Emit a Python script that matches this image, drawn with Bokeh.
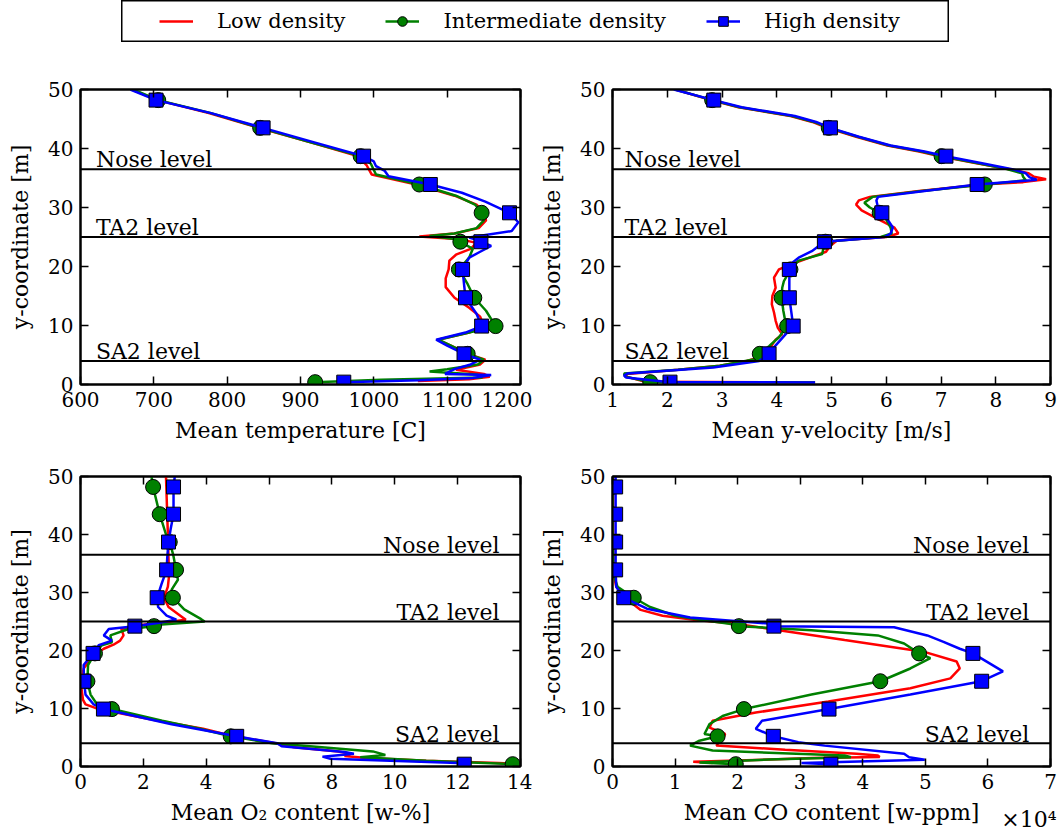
from bokeh.plotting import figure
from bokeh.models import (Range1d, FixedTicker, LinearAxis, Span, Label, Legend,
                          LegendItem, Spacer, CustomJSTickFormatter, Title)
from bokeh.layouts import row, column
from bokeh.embed import file_html
from bokeh.resources import INLINE

# ---------------- data ----------------
MARK_Y = [48.2, 43.5, 38.7, 33.9, 29.1, 24.2, 19.5, 14.7, 9.9, 5.2, 0.4]
LEVELS = [36.5, 25.0, 4.0]
LEVEL_NAMES = ["Nose level", "TA2 level", "SA2 level"]
SERIES = ["Low density", "Intermediate density", "High density"]

# Mean temperature [C]
T_LOW_Y = [50, 48.2, 46, 43.5, 41, 38.7, 37.2, 36.3, 35.6, 33.9, 32, 30.5, 29.1, 27.8, 26.5, 25.6, 25.1, 24.6, 24.0, 23.0, 22.0, 21.0, 19.5, 18.0, 16.5, 14.7, 13.0, 11.5, 9.9, 8.8, 7.6, 6.6, 5.2, 4.2, 3.4, 2.5, 1.8, 1.3, 0.9, 0.6]
T_LOW_X = [670, 705, 775, 843, 915, 978, 990, 994, 997, 1058, 1110, 1140, 1150, 1153, 1143, 1110, 1062, 1118, 1140, 1132, 1112, 1103, 1102, 1098, 1098, 1110, 1130, 1145, 1150, 1130, 1087, 1105, 1128, 1152, 1145, 1112, 1150, 1158, 1130, 1060]
T_MID_Y = [50, 48.2, 46, 43.5, 41, 38.7, 37.4, 36.6, 35.6, 33.9, 32, 30.5, 29.1, 27.8, 26.5, 25.6, 25.15, 24.7, 24.2, 23.0, 21.5, 19.5, 17.0, 14.7, 12.5, 9.9, 8.8, 7.6, 6.6, 5.2, 4.2, 3.4, 2.6, 2.2, 1.7, 1.2, 0.8, 0.4]
T_MID_X = [672, 706, 778, 845, 915, 982, 996, 999, 1003, 1062, 1112, 1138, 1147, 1150, 1140, 1110, 1076, 1108, 1118, 1135, 1130, 1116, 1128, 1137, 1153, 1166, 1130, 1088, 1105, 1128, 1150, 1142, 1100, 1076, 1140, 1148, 1010, 920]
T_HIGH_Y = [50, 48.2, 46, 43.5, 41, 38.7, 37.8, 37.0, 36.2, 35.3, 33.9, 32.5, 31.0, 29.1, 27.5, 26.0, 25.3, 24.9, 24.6, 24.2, 23.5, 22.5, 21.5, 19.5, 17.0, 14.7, 12.0, 9.9, 8.8, 7.6, 6.6, 5.2, 4.2, 3.4, 2.6, 1.8, 1.6, 1.1, 0.7, 0.4]
T_HIGH_X = [668, 703, 778, 849, 920, 986, 1000, 1003, 1015, 1020, 1077, 1120, 1152, 1185, 1197, 1188, 1150, 1130, 1138, 1146, 1160, 1145, 1130, 1121, 1123, 1125, 1140, 1147, 1125, 1085, 1100, 1123, 1145, 1132, 1110, 1097, 1160, 1135, 1062, 959]
T_MID_M = [706, 845, 982, 1062, 1147, 1118, 1116, 1137, 1166, 1128, 920]
T_HIGH_M = [703, 849, 986, 1077, 1185, 1146, 1121, 1125, 1147, 1123, 959]

# Mean y-velocity [m/s]
V_LOW_Y = [50, 48.2, 47, 45.5, 44.5, 43.5, 42, 40.5, 39.5, 38.7, 37.5, 36.5, 35.8, 35.2, 34.8, 34.3, 33.9, 32.8, 31.8, 31.2, 30.5, 29.5, 28.3, 26.6, 25.6, 25.0, 24.4, 23.5, 22.5, 21.5, 20.5, 19.5, 18.1, 16.4, 15.0, 13.6, 12.2, 10.8, 9.6, 8.5, 7.6, 6.5, 5.5, 4.6, 4.0, 3.2, 2.5, 1.75, 1.3, 0.45, 0.35]
V_LOW_X = [2.15, 2.8, 3.3, 4.25, 4.65, 4.92, 5.45, 6.02, 6.6, 6.98, 7.65, 8.25, 8.6, 8.7, 8.92, 8.5, 7.75, 6.6, 5.7, 5.5, 5.45, 5.55, 5.8, 6.15, 6.22, 6.0, 5.1, 4.98, 4.9, 4.6, 4.3, 4.04, 3.95, 3.98, 3.92, 3.91, 3.95, 3.98, 4.02, 4.1, 3.98, 3.9, 3.84, 3.68, 3.45, 2.96, 2.2, 1.21, 1.27, 1.6, 4.7]
V_MID_Y = [50, 48.2, 47, 45.5, 44.5, 43.5, 42, 40.5, 39.5, 38.7, 37.5, 36.5, 35.8, 35.2, 34.6, 33.9, 32.8, 31.8, 30.8, 30.0, 29.1, 28.0, 26.6, 25.6, 25.0, 24.2, 23.0, 22.1, 21.0, 19.5, 17.5, 16.4, 14.7, 12.5, 11.0, 9.9, 8.0, 6.5, 5.2, 4.3, 3.2, 2.5, 1.85, 1.3, 0.4, 0.35]
V_MID_X = [2.15, 2.82, 3.32, 4.28, 4.68, 4.95, 5.48, 6.05, 6.65, 7.01, 7.68, 8.2, 8.48, 8.5, 8.55, 7.8, 6.65, 5.75, 5.6, 5.7, 5.88, 6.0, 6.08, 6.1, 5.9, 4.89, 4.85, 4.83, 4.4, 4.25, 4.13, 4.1, 4.09, 4.12, 4.15, 4.19, 4.04, 3.86, 3.69, 3.6, 2.96, 2.2, 1.21, 1.24, 1.69, 4.7]
V_HIGH_Y = [50, 48.2, 47, 45.5, 44.5, 43.5, 42, 40.5, 39.5, 38.7, 37.5, 36.5, 35.8, 35.1, 34.7, 33.9, 32.8, 31.8, 31.2, 30.0, 29.1, 28.0, 26.6, 25.6, 25.0, 24.2, 22.6, 21.5, 20.4, 19.5, 17.0, 14.7, 12.0, 9.9, 8.5, 6.0, 5.2, 4.0, 2.9, 1.85, 1.5, 1.2, 0.4, 0.35]
V_HIGH_X = [2.12, 2.85, 3.36, 4.33, 4.72, 4.98, 5.5, 6.08, 6.7, 7.09, 7.75, 8.3, 8.55, 8.62, 8.75, 7.66, 6.7, 5.85, 5.82, 5.85, 5.92, 6.02, 6.12, 6.08, 5.97, 4.87, 4.64, 4.4, 4.25, 4.23, 4.23, 4.23, 4.27, 4.30, 4.16, 3.92, 3.86, 3.68, 2.84, 1.27, 1.21, 1.25, 2.05, 4.7]
V_MID_M = [2.82, 4.95, 7.01, 7.8, 5.88, 4.89, 4.25, 4.09, 4.19, 3.69, 1.69]
V_HIGH_M = [2.85, 4.98, 7.09, 7.66, 5.92, 4.87, 4.23, 4.23, 4.30, 3.86, 2.05]

# Mean O2 content [w-%]
O_LOW_Y = [50, 45, 40, 36, 33, 31, 29.1, 27.5, 26.3, 25.3, 24.8, 24.5, 23.7, 22.6, 21.7, 21.0, 20.3, 19.2, 16.9, 15.0, 13.5, 11.5, 10.7, 9.9, 8.5, 7.9, 6.5, 5.3, 4.0, 3.3, 2.6, 2.2, 1.8, 1.5, 1.0, 0.6, 0.4]
O_LOW_X = [2.72, 2.75, 2.78, 2.8, 2.82, 2.78, 2.66, 2.8, 3.1, 3.35, 2.6, 2.05, 1.3, 1.37, 1.26, 1.05, 0.74, 0.42, 0.1, 0.04, 0.03, 0.08, 0.16, 0.58, 1.9, 2.47, 3.9, 4.8, 6.2, 6.8, 8.2, 8.6, 8.4, 9.0, 11.0, 13.3, 14.0]
O_MID_Y = [50, 48.2, 43.5, 40, 38.7, 36.5, 33.9, 32.2, 30.5, 29.1, 27.1, 25.4, 25.0, 24.5, 24.2, 23.7, 22.6, 21.4, 20.9, 19.5, 17.5, 14.7, 12.4, 10.7, 9.9, 7.9, 6.5, 5.2, 4.0, 3.5, 2.6, 2.0, 1.6, 1.0, 0.4]
O_MID_X = [2.26, 2.31, 2.52, 2.72, 2.84, 2.95, 3.04, 3.1, 2.9, 2.94, 3.3, 3.84, 3.95, 2.58, 2.34, 1.53, 0.95, 1.0, 0.68, 0.46, 0.24, 0.22, 0.32, 0.53, 1.0, 2.6, 3.8, 4.78, 6.1, 7.3, 9.3, 9.7, 8.9, 11.0, 13.75]
O_HIGH_Y = [50, 48.2, 43.5, 41, 38.7, 36, 33.9, 31.5, 29.1, 27.5, 26.0, 25.3, 24.7, 24.2, 23.7, 22.6, 21.7, 20.9, 19.5, 17.5, 14.7, 12.4, 10.7, 9.9, 7.3, 5.2, 4.0, 3.5, 2.5, 2.2, 1.7, 1.35, 0.6, 0.4]
O_HIGH_X = [3.0, 2.96, 2.96, 2.87, 2.8, 2.76, 2.74, 2.58, 2.44, 2.47, 2.74, 3.05, 2.4, 1.73, 0.9, 0.74, 1.0, 0.58, 0.40, 0.1, 0.11, 0.16, 0.42, 0.73, 2.9, 4.97, 6.26, 6.4, 8.4, 8.7, 7.7, 7.95, 12.0, 12.21]
O_MID_M = [2.31, 2.52, 2.84, 3.04, 2.94, 2.34, 0.46, 0.22, 1.0, 4.78, 13.75]
O_HIGH_M = [2.96, 2.96, 2.8, 2.74, 2.44, 1.73, 0.40, 0.11, 0.73, 4.97, 12.21]

# Mean CO content [w-ppm], in units of 1e4
C_LOW_Y = [50, 40, 33, 31, 29.1, 27, 26, 25.3, 24.8, 24.6, 23.5, 21.8, 19.8, 18.1, 16.9, 15.2, 13.5, 11.2, 9.3, 7.9, 6.7, 5.6, 4.7, 4.2, 3.6, 2.9, 2.2, 1.9, 1.65, 1.45, 0.8, 0.6]
C_LOW_X = [0.01, 0.01, 0.02, 0.06, 0.2, 0.45, 0.8, 1.3, 1.8, 1.97, 2.66, 3.71, 4.97, 5.5, 5.55, 5.4, 4.76, 3.45, 2.29, 1.6, 1.55, 1.8, 1.76, 1.7, 1.66, 2.76, 3.9, 4.24, 4.27, 3.2, 1.29, 1.6]
C_MID_Y = [50, 40, 33, 31, 29.1, 27.5, 26.0, 25.3, 24.6, 24.2, 23.5, 22.6, 21.2, 19.5, 18.7, 16.9, 14.7, 12.4, 9.9, 8.7, 7.3, 5.6, 5.2, 4.45, 3.6, 2.75, 1.9, 1.6, 1.2, 0.7, 0.4]
C_MID_X = [0.0, 0.0, 0.02, 0.08, 0.34, 0.6, 1.0, 1.4, 1.87, 2.02, 3.18, 4.24, 4.66, 4.9, 5.08, 4.76, 4.28, 3.18, 2.1, 1.76, 1.55, 1.47, 1.68, 1.39, 1.24, 1.6, 3.71, 3.81, 2.5, 1.39, 1.97]
C_HIGH_Y = [50, 48.2, 43.5, 38.7, 33.9, 31, 29.1, 28, 27.2, 25.7, 24.6, 24.2, 24.0, 22.6, 21.5, 20.3, 19.5, 16.4, 14.7, 12.4, 9.9, 7.9, 6.5, 5.2, 4.2, 3.6, 2.2, 1.6, 1.15, 0.6, 0.4]
C_HIGH_X = [0.05, 0.05, 0.05, 0.05, 0.05, 0.06, 0.18, 0.4, 0.55, 1.24, 2.55, 2.58, 4.5, 5.03, 5.29, 5.55, 5.76, 6.24, 5.9, 4.76, 3.46, 2.39, 2.29, 2.57, 2.97, 3.39, 4.66, 4.74, 4.99, 3.02, 3.49]
C_MID_M = [0.0, 0.0, 0.0, 0.0, 0.34, 2.02, 4.9, 4.28, 2.1, 1.68, 1.97]
C_HIGH_M = [0.05, 0.05, 0.05, 0.05, 0.18, 2.58, 5.76, 5.9, 3.46, 2.57, 3.49]

X_TICKS_T = [600, 700, 800, 900, 1000, 1100, 1200]
X_TICKS_V = [1, 2, 3, 4, 5, 6, 7, 8, 9]
X_TICKS_O = [0, 2, 4, 6, 8, 10, 12, 14]
X_TICKS_C = [0, 1, 2, 3, 4, 5, 6, 7]
Y_TICKS = [0, 10, 20, 30, 40, 50]
CO_MULTIPLIER = "\u00d710\u2074"

# ---------------- style ----------------
FONT = "DejaVu Serif"
RED, GREEN, BLUE = "#ff0000", "#008000", "#0000ff"
LW = 2.5
EMPTY_FMT = CustomJSTickFormatter(code="return ''")


def style_axis(ax, ticks, show_labels=True):
    ax.ticker = FixedTicker(ticks=ticks)
    ax.minor_tick_line_color = None
    ax.major_tick_in = 8
    ax.major_tick_out = 0
    ax.major_tick_line_width = 1.5
    ax.major_tick_line_color = "black"
    ax.axis_line_width = 2
    ax.axis_line_color = "black"
    ax.major_label_text_font = FONT
    if show_labels:
        ax.major_label_text_color = "black"
        ax.major_label_text_font_size = "20px"
        ax.major_label_standoff = 7
    else:
        ax.formatter = EMPTY_FMT
        ax.major_label_text_color = None
        ax.major_label_text_font_size = "1px"
        ax.major_label_standoff = 0
    ax.axis_label_text_font = FONT
    ax.axis_label_text_font_size = "22px"
    ax.axis_label_text_font_style = "normal"
    ax.axis_label_text_color = "black"
    ax.axis_label_standoff = 8


def panel(xr, xticks, xlabel, width, height, top, bottom,
          ly, lx, mid_m, high_m, lab_x, lab_align):
    p = figure(width=width, height=height, x_range=Range1d(*xr), y_range=Range1d(0, 50),
               output_backend="svg", toolbar_location=None,
               min_border_left=80, min_border_right=12,
               min_border_top=top, min_border_bottom=bottom)
    p.xgrid.visible = False
    p.ygrid.visible = False
    p.outline_line_color = "black"
    p.outline_line_width = 2
    p.background_fill_color = "white"
    p.border_fill_color = "white"

    style_axis(p.xaxis[0], xticks)
    p.xaxis[0].axis_label = xlabel
    style_axis(p.yaxis[0], Y_TICKS)
    p.yaxis[0].axis_label = "y-coordinate [m]"
    p.yaxis[0].axis_label_standoff = 12

    ax_top = LinearAxis()
    style_axis(ax_top, xticks, show_labels=False)
    p.add_layout(ax_top, "above")
    ax_right = LinearAxis()
    style_axis(ax_right, Y_TICKS, show_labels=False)
    p.add_layout(ax_right, "right")

    (ly_low, lx_low), (ly_mid, lx_mid), (ly_high, lx_high) = zip(ly, lx)
    p.line(lx_low, ly_low, line_color=RED, line_width=LW)
    p.line(lx_mid, ly_mid, line_color=GREEN, line_width=LW)
    p.scatter(mid_m, MARK_Y, marker="circle", size=15, fill_color=GREEN,
              line_color="black", line_width=1)
    p.line(lx_high, ly_high, line_color=BLUE, line_width=LW)
    p.scatter(high_m, MARK_Y, marker="square", size=14, fill_color=BLUE,
              line_color="black", line_width=1)

    for lev, name in zip(LEVELS, LEVEL_NAMES):
        p.add_layout(Span(location=lev, dimension="width", line_color="black", line_width=2))
        p.add_layout(Label(x=lab_x, y=lev + 1.6, text=name, text_align=lab_align,
                           text_baseline="alphabetic", text_font=FONT,
                           text_font_size="22px", text_color="black"))
    return p


tl = panel((600, 1200), X_TICKS_T, "Mean temperature [C]", 532, 405, 47, 63,
           [T_LOW_Y, T_MID_Y, T_HIGH_Y], [T_LOW_X, T_MID_X, T_HIGH_X],
           T_MID_M, T_HIGH_M, 621, "left")
tr = panel((1, 9), X_TICKS_V, "Mean y-velocity [m/s]", 530, 405, 47, 63,
           [V_LOW_Y, V_MID_Y, V_HIGH_Y], [V_LOW_X, V_MID_X, V_HIGH_X],
           V_MID_M, V_HIGH_M, 1.22, "left")
bl = panel((0, 14), X_TICKS_O, "Mean O\u2082 content [w-%]", 532, 388, 29, 69,
           [O_LOW_Y, O_MID_Y, O_HIGH_Y], [O_LOW_X, O_MID_X, O_HIGH_X],
           O_MID_M, O_HIGH_M, 13.33, "right")
br = panel((0, 7), X_TICKS_C, "Mean CO content [w-ppm]", 530, 388, 29, 69,
           [C_LOW_Y, C_MID_Y, C_HIGH_Y], [C_LOW_X, C_MID_X, C_HIGH_X],
           C_MID_M, C_HIGH_M, 6.66, "right")
br.add_layout(Title(text=CO_MULTIPLIER, align="right", vertical_align="top",
                    standoff=-42, offset=-6, text_font=FONT, text_font_size="22px",
                    text_font_style="normal", text_color="black"), "below")

# ---------------- legend ----------------
lg = figure(width=828, height=42, x_range=Range1d(0, 1), y_range=Range1d(0, 1),
            output_backend="svg", toolbar_location=None,
            x_axis_type=None, y_axis_type=None,
            min_border_left=0, min_border_right=0, min_border_top=0, min_border_bottom=0)
lg.xgrid.visible = False
lg.ygrid.visible = False
lg.outline_line_color = "black"
lg.outline_line_width = 2
# legend glyph carriers: series drawn outside the (0..1) view of this strip
g_low = lg.line(T_LOW_X, T_LOW_Y, line_color=RED, line_width=LW)
g_mid = lg.line(T_MID_X, T_MID_Y, line_color=GREEN, line_width=LW)
g_mids = lg.scatter(T_MID_M, MARK_Y, marker="circle", size=15, fill_color=GREEN,
                    line_color="black", line_width=1)
g_high = lg.line(T_HIGH_X, T_HIGH_Y, line_color=BLUE, line_width=LW)
g_highs = lg.scatter(T_HIGH_M, MARK_Y, marker="square", size=14, fill_color=BLUE,
                     line_color="black", line_width=1)
legend = Legend(items=[LegendItem(label=SERIES[0], renderers=[g_low]),
                       LegendItem(label=SERIES[1], renderers=[g_mid, g_mids]),
                       LegendItem(label=SERIES[2], renderers=[g_high, g_highs])],
                orientation="horizontal", location="left", padding=6, margin=38,
                spacing=40, glyph_width=34, glyph_height=24, label_standoff=24,
                label_text_font=FONT, label_text_font_size="21px",
                label_text_color="black",
                border_line_color=None, background_fill_alpha=0)
lg.add_layout(legend, "center")

layout = column(row(Spacer(width=121, height=42), lg), row(tl, tr), row(bl, br))

with open("out.html", "w") as f:
    f.write(file_html(layout, INLINE))
